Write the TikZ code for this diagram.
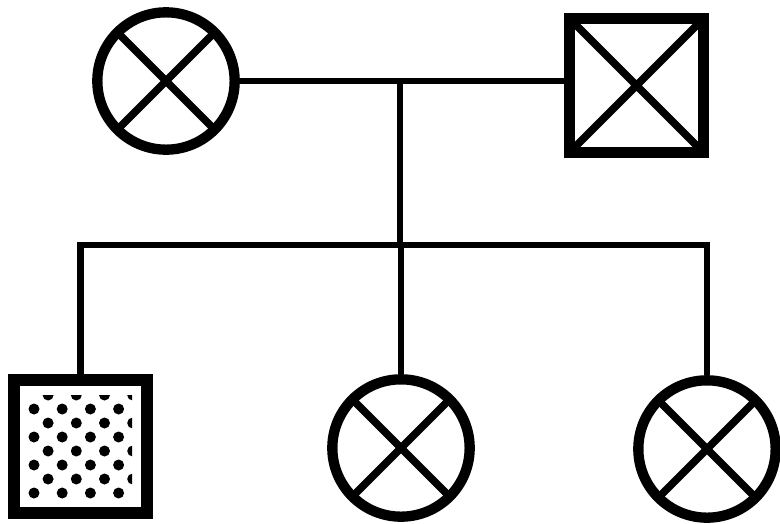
\documentclass[tikz,border=0pt]{standalone}
\usetikzlibrary{positioning}
\begin{document}
\begin{tikzpicture}[x=0.03cm, y=-0.03cm,
Xcross/.style={path picture={\draw[line width=6.6pt]
  (path picture bounding box.north west) -- (path picture bounding box.south east)
  (path picture bounding box.north east) -- (path picture bounding box.south west);}},
Fnode/.style={circle, draw=black, line width=8.8pt, minimum size=4.12cm, inner sep=0pt, Xcross},
Mnode/.style={rectangle, draw=black, line width=9.8pt, minimum size=4.02cm, inner sep=0pt, Xcross},
Anode/.style={rectangle, draw=black, line width=10.5pt, minimum size=4.0cm, inner sep=0pt},
Link/.style={line width=5.4pt},
Dot/.style={fill=black}
]
\useasboundingbox (0,0) rectangle (780,523);

%Nodes
\node[Fnode] (M) at (166,81) {};
\node[Mnode] (F) at (636.5,85.5) {};
\node[Anode] (S1) at (80.5,446.5) {};
\node[Fnode] (S2) at (401,448) {};
\node[Fnode] (S3) at (707,449) {};
\coordinate (mate) at (400,82);
\coordinate (sib) at (400,245);

%Dots
\begin{scope}
\clip (18,395) rectangle (132,508);
\foreach \r in {0,2,4,6} {
  \foreach \c in {0,1,2,3} {
    \fill[Dot] (48.1+28.2*\c, 395+14*\r) circle[radius=0.165cm];
    \fill[Dot] (34+28.2*\c, 409+14*\r) circle[radius=0.165cm];
  }
}
\end{scope}

%Lines
\draw[Link] (M.east) -- (F.west |- M.east);
\draw[Link] (mate) -- (sib);
\draw[Link] (S1.north) -- (S1.north |- sib) -- (S3.north |- sib) -- (S3.north);
\draw[Link] (S2.north) -- (S2.north |- sib);
\end{tikzpicture}
\end{document}
